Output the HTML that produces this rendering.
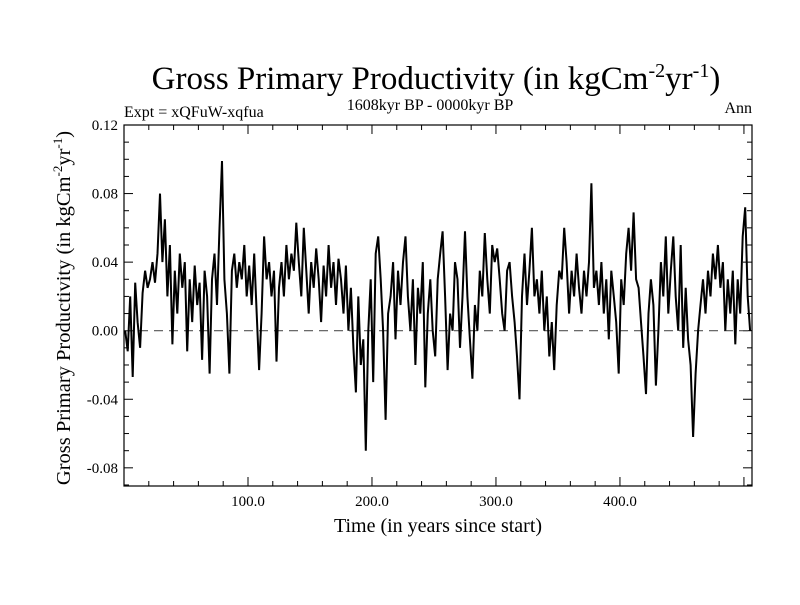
<!DOCTYPE html>
<html><head><meta charset="utf-8"><style>
body{margin:0;background:#fff;}
svg text{font-family:"Liberation Serif",serif;fill:#000;}
</style></head><body>
<svg id="chart" width="800" height="600">
<text x="436" y="89" font-size="33" text-anchor="middle">Gross Primary Productivity (in kgCm<tspan dy="-12" font-size="20">-2</tspan><tspan dy="12">yr</tspan><tspan dy="-12" font-size="20">-1</tspan><tspan dy="12">)</tspan></text>
<text x="124" y="117" font-size="16">Expt = xQFuW-xqfua</text>
<text x="430" y="110" font-size="16" text-anchor="middle">1608kyr BP - 0000kyr BP</text>
<text x="752" y="113" font-size="16" text-anchor="end">Ann</text>
<text transform="translate(70,308) rotate(-90)" font-size="20.5" text-anchor="middle">Gross Primary Productivity (in kgCm<tspan dy="-8" font-size="13">-2</tspan><tspan dy="8">yr</tspan><tspan dy="-8" font-size="13">-1</tspan><tspan dy="8">)</tspan></text>
<text x="438" y="532" font-size="20" text-anchor="middle">Time (in years since start)</text>
<g id="axes"></g>
<g id="series"></g>
<rect x="124" y="125" width="628" height="361" fill="none" stroke="#000" stroke-width="1.2"/>
</svg>
<script>
const yTicks=[-0.08,-0.04,0.00,0.04,0.08,0.12];
const yTickLabels=["-0.08","-0.04","0.00","0.04","0.08","0.12"];
const xTicks=[100,200,300,400];
const xTickLabels=["100.0","200.0","300.0","400.0"];
const startYear=1, stepYears=2;
const gppMilli=[0,-12,20,-27,28,5,-10,
22,35,25,30,40,28,45,
80,40,65,20,50,-8,35,10,45,
25,40,-12,30,5,38,15,28,
-17,35,20,-25,30,45,15,60,
99,30,10,-25,35,45,25,40,
30,50,20,38,15,45,10,
-23,10,55,30,40,20,35,
-18,25,40,20,50,30,45,35,63,
40,20,60,35,10,40,25,48,
30,5,38,20,50,25,40,15,
42,30,10,38,0,25,-10,-36,
20,-20,-5,-70,0,30,-30,45,
55,30,0,-52,10,20,40,-5,
35,15,40,55,20,0,30,-20,
25,10,40,-33,10,30,0,-15,
30,45,58,20,-23,10,0,40,
30,-10,20,58,20,-5,-28,15,
0,35,20,57,30,10,50,40,
48,30,10,0,35,40,20,5,
-15,-40,20,45,15,35,60,20,
30,10,35,0,20,-15,5,-23,
15,35,30,60,40,10,35,20,
45,25,10,35,20,40,86,25,
35,15,40,10,30,-5,35,20,
5,-25,30,15,45,60,35,69,
30,25,5,-15,-37,10,30,15,
-32,0,40,20,55,10,35,55,
20,0,50,-10,25,-5,-20,-62,
-25,0,15,30,10,35,20,45,
30,50,25,40,0,30,10,35,
-8,30,10,55,72,20,0];
const NS="http://www.w3.org/2000/svg";
const X0=124,X1=752,Y0=125,Y1=486;
const xMin=0,xMax=506.5,yMin=-0.0906,yMax=0.12;
function xs(v){return X0+(v-xMin)/(xMax-xMin)*(X1-X0);}
function ys(v){return Y1-(v-yMin)/(yMax-yMin)*(Y1-Y0);}
function mk(tag,attrs){const e=document.createElementNS(NS,tag);for(const k in attrs)e.setAttribute(k,attrs[k]);return e;}
const axes=document.getElementById('axes');
for(let v=-0.09;v<=0.1201;v+=0.01){
  const y=ys(v);const major=Math.abs(Math.round(v*100)%4)===0;const L=major?9:5;
  const t1=mk('line',{x1:X0,x2:X0+L,y1:y,y2:y,stroke:'#000'});
  
  
  axes.appendChild(t1);
  const t2=mk('line',{x1:X1,x2:X1-L,y1:y,y2:y,stroke:'#000'});
  
  
  axes.appendChild(t2);
}
yTicks.forEach((v,i)=>{
  const t=mk('text',{x:X0-6,y:ys(v)+5,'font-size':15,'text-anchor':'end'});
  t.textContent=yTickLabels[i];
  
  
  axes.appendChild(t);
});
for(let v=20;v<=500;v+=20){
  const x=xs(v);const major=v%100===0;const L=major?9:5;
  const t1=mk('line',{x1:x,x2:x,y1:Y1,y2:Y1-L,stroke:'#000'});
  
  
  axes.appendChild(t1);
  const t2=mk('line',{x1:x,x2:x,y1:Y0,y2:Y0+L,stroke:'#000'});
  
  
  axes.appendChild(t2);
}
xTicks.forEach((v,i)=>{
  const t=mk('text',{x:xs(v),y:Y1+20,'font-size':15,'text-anchor':'middle'});
  t.textContent=xTickLabels[i];
  
  
  axes.appendChild(t);
});
const zero=mk('line',{x1:X0,x2:X1,y1:ys(0),y2:ys(0),stroke:'#555','stroke-dasharray':'9,6','stroke-width':1.2});


axes.appendChild(zero);
const pts=gppMilli.map((v,i)=>xs(startYear+i*stepYears).toFixed(1)+','+ys(v/1000).toFixed(1)).join(' ');
const line=mk('polyline',{points:pts,fill:'none',stroke:'#000','stroke-width':2,'stroke-linejoin':'miter'});


document.getElementById('series').appendChild(line);
</script>
</body></html>
